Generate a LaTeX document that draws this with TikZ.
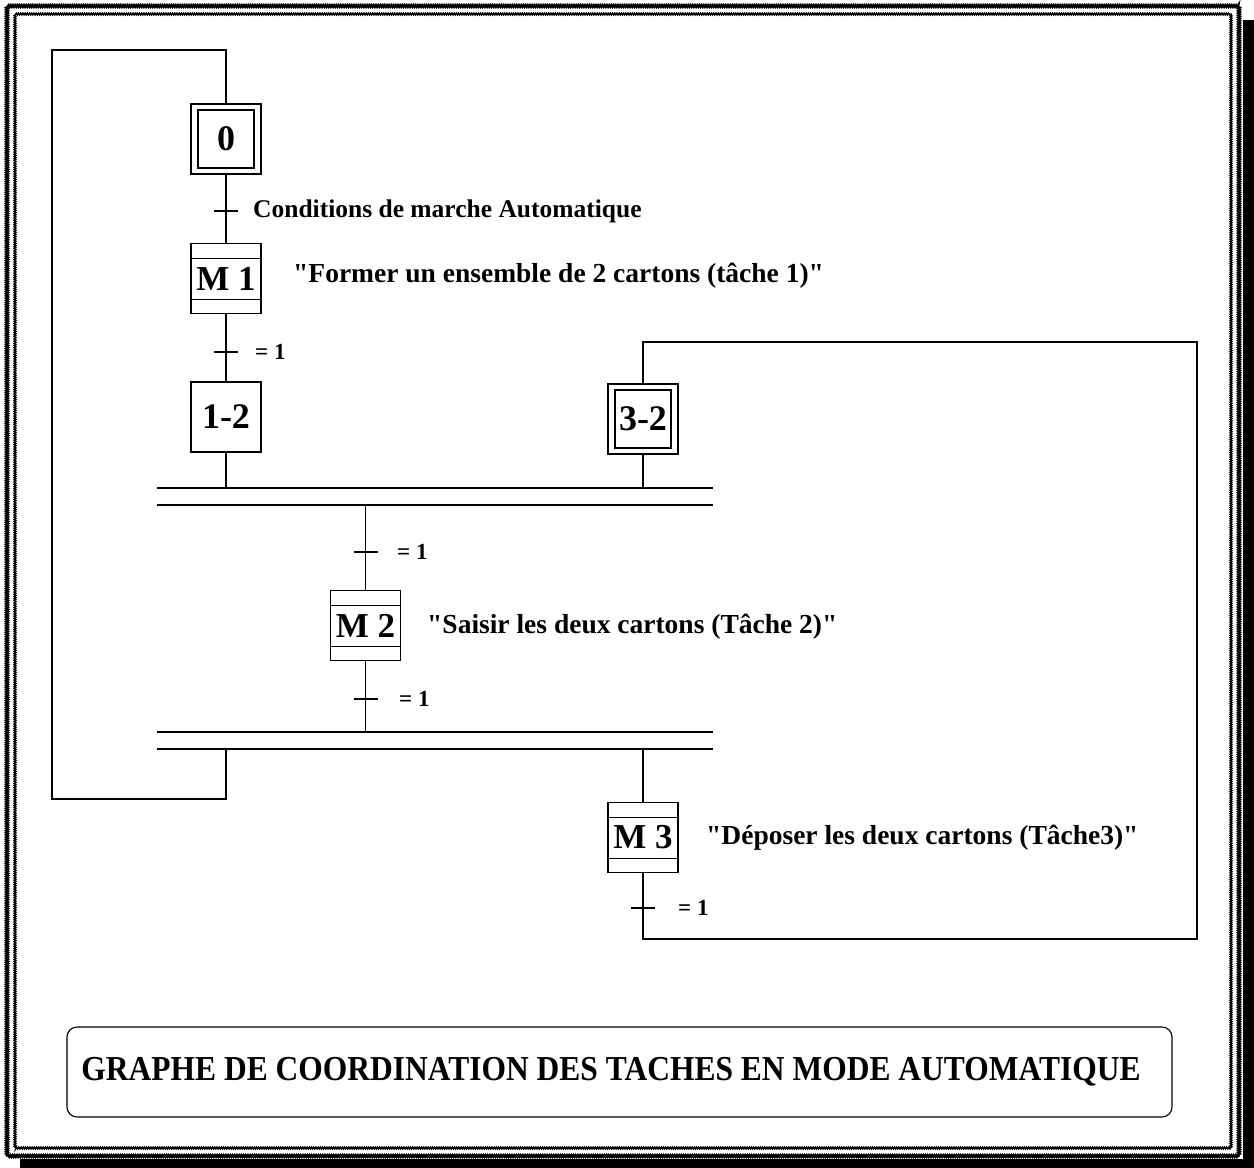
\documentclass[tikz,border=0pt]{standalone}
\usepackage{fontspec}
\setmainfont{Liberation Serif}[Ligatures=TeXOff]
\usetikzlibrary{calc,decorations.pathmorphing}
\begin{document}
\begin{tikzpicture}[x=1pt,y=-1pt,
  conn/.style={line width=1.1pt},
  stepbox/.style={draw,line width=1.2pt,minimum width=70pt,minimum height=70pt,inner sep=0pt,
    font=\fontsize{36}{36}\selectfont\bfseries},
  innerbox/.style={draw,line width=1.2pt,minimum width=56pt,minimum height=58pt,inner sep=0pt,
    font=\fontsize{36}{36}\selectfont\bfseries},
  macrobox/.style={draw,line width=1.2pt,minimum width=70pt,minimum height=70pt,inner sep=0pt,
    font=\fontsize{35}{35}\selectfont\bfseries,
    path picture={
      \draw[line width=1.6pt] ([yshift=-15pt]path picture bounding box.north west) -- ([yshift=-15pt]path picture bounding box.north east);
      \draw[line width=1.6pt] ([yshift=14pt]path picture bounding box.south west) -- ([yshift=14pt]path picture bounding box.south east);
    }},
  lab/.style={anchor=west,inner sep=0pt,font=\fontsize{25.5}{26}\selectfont\bfseries},
  act/.style={anchor=west,inner sep=0pt,font=\fontsize{27.5}{28}\selectfont\bfseries},
  eq/.style={anchor=west,inner sep=0pt,font=\fontsize{23}{23}\selectfont\bfseries},
  tick/.style={line width=1.1pt},
  bar/.style={line width=1.5pt},
  wavy/.style={decorate,decoration={zigzag,segment length=2.2pt,amplitude=0.9pt}}
]
\useasboundingbox (0,0) rectangle (1254,1168);
\fill[white] (0,0) rectangle (1254,1168);

% page frame with shadow
\fill[black] (1243,20) rectangle (1254,1168);
\fill[black] (20,1159) rectangle (1254,1168);
\draw[wavy,line width=2.2pt] (7,6) rectangle (1239,1156);
\draw[wavy,line width=1.4pt] (15,14) rectangle (1231,1148);

% steps
\node[stepbox] (s0) at (226,139) {};
\node[innerbox] (s0i) at (226,139) {0};
\node[macrobox] (m1) at (226,278.5) {M 1};
\node[stepbox] (s12) at (226,417) {1-2};
\node[stepbox] (s32) at (643,419) {};
\node[innerbox] (s32i) at (643,419) {3-2};
\node[macrobox] (m2) at (365.5,625.5) {M 2};
\node[macrobox] (m3) at (643,837.5) {M 3};

% coordinates
\coordinate (b1t) at (157,488); \coordinate (b1te) at (713,488);
\coordinate (b1b) at (157,505); \coordinate (b1be) at (713,505);
\coordinate (b2t) at (157,732); \coordinate (b2te) at (713,732);
\coordinate (b2b) at (157,749); \coordinate (b2be) at (713,749);
\coordinate (lt) at (52,50);  \coordinate (lb) at (52,799);
\coordinate (rt) at (1197,342); \coordinate (rb) at (1197,939);
\coordinate (t1) at (226,211);
\coordinate (t2) at (226,352);
\coordinate (t3) at (365.5,552);
\coordinate (t4) at (365.5,699);
\coordinate (t5) at (643,908);

% double bars
\draw[bar] (b1t) -- (b1te);
\draw[bar] (b1b) -- (b1be);
\draw[bar] (b2t) -- (b2te);
\draw[bar] (b2b) -- (b2be);

% connectors
\draw[conn] (s0.south) -- (m1.north);
\draw[conn] (m1.south) -- (s12.north);
\draw[conn] (s12.south) -- (s12.south |- b1t);
\draw[conn] (s32.south) -- (s32.south |- b1t);
\draw[conn] (m2.north) -- (m2.north |- b1b);
\draw[conn] (m2.south) -- (m2.south |- b2t);
\draw[conn] (m3.north) -- (m3.north |- b2b);
\draw[conn] (s0.north) |- (lt) -- (lb) -| (s12.south |- b2b);
\draw[conn] (m3.south) |- (rb) -- (rt) -| (s32.north);

% transitions
\foreach \t in {t1,t2,t3,t4,t5}{
  \draw[tick] ([xshift=-12pt]\t) -- ([xshift=12pt]\t);
}

% labels
\node[lab] (c1) at (253,211) {Conditions de marche Automatique};
\node[act] (a1) at (293,276) {"Former un ensemble de 2 cartons (tâche 1)"};
\node[eq] (e2) at (255,352) {= 1};
\node[eq] (e3) at (397,552) {= 1};
\node[eq] (e4) at (399,699) {= 1};
\node[act] (a2) at (427,627) {"Saisir les deux cartons (Tâche 2)"};
\node[act] (a3) at (706,838) {"Déposer les deux cartons (Tâche3)"};
\node[eq] (e5) at (678,908) {= 1};

% title
\node[draw,line width=1.1pt,rounded corners=10pt,minimum width=1105pt,minimum height=90pt] (tbox) at (619.5,1072) {};
\node[inner sep=0pt,xscale=0.9,font=\fontsize{35}{35}\selectfont\bfseries] (title) at (611,1072) {GRAPHE DE COORDINATION DES TACHES EN MODE AUTOMATIQUE};
\end{tikzpicture}
\end{document}
